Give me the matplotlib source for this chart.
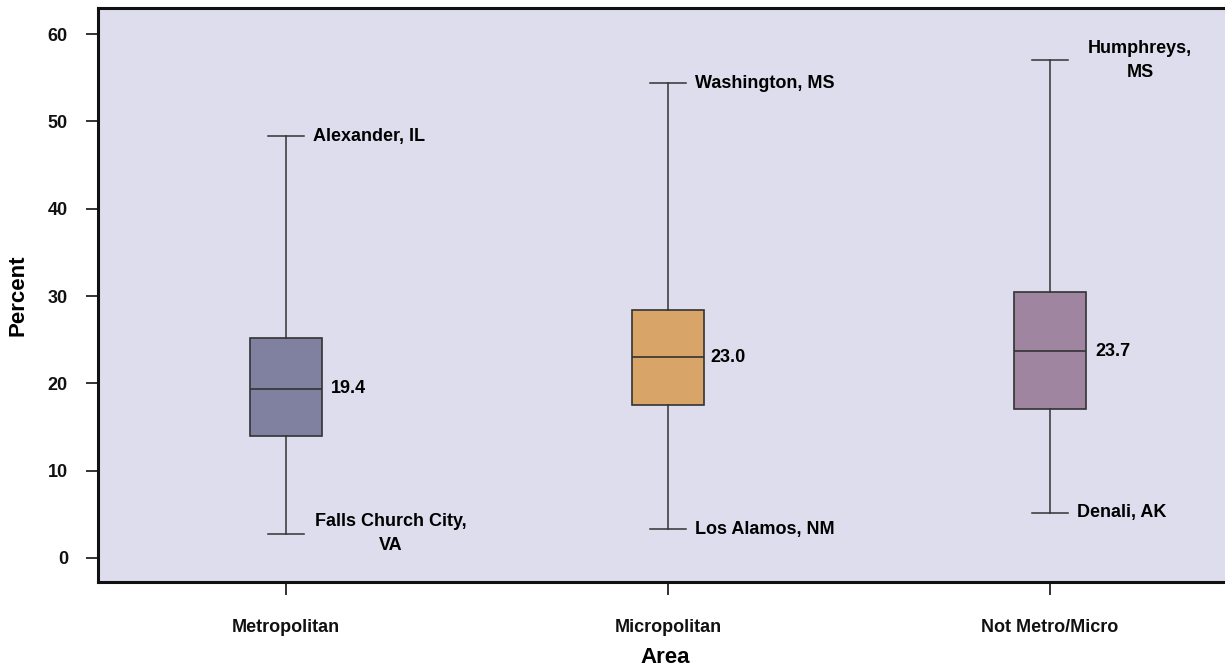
import matplotlib
matplotlib.use("Agg")
import matplotlib.pyplot as plt

# data
areas = ["Metropolitan", "Micropolitan", "Not Metro/Micro"]
whisker_low = [2.8, 3.3, 5.2]
q1 = [14.0, 17.5, 17.1]
median = [19.4, 23.0, 23.7]
q3 = [25.2, 28.4, 30.5]
whisker_high = [48.3, 54.4, 57.0]
high_labels = ["Alexander, IL", "Washington, MS", "Humphreys,\nMS"]
low_labels = ["Falls Church City,\nVA", "Los Alamos, NM", "Denali, AK"]
yticks = [0, 10, 20, 30, 40, 50, 60]

box_colors = ["#8081A0", "#D9A467", "#A085A1"]
bg_color = "#DEDDEE"
line_color = "#333333"

plt.rcParams["font.family"] = ["Liberation Sans", "DejaVu Sans"]
plt.rcParams["font.weight"] = "bold"

fig = plt.figure(figsize=(12.25, 6.7), dpi=100)
ax = fig.add_axes([98 / 1225, 1 - 582 / 670, 1146 / 1225, 574 / 670])
ax.set_facecolor(bg_color)

stats = []
for i, name in enumerate(areas):
    stats.append({
        "label": name,
        "whislo": whisker_low[i],
        "q1": q1[i],
        "med": median[i],
        "q3": q3[i],
        "whishi": whisker_high[i],
        "fliers": [],
    })

positions = [1, 2, 3]
box_w = 0.19
bp = ax.bxp(stats, positions=positions, widths=box_w, capwidths=box_w / 2,
            patch_artist=True, showfliers=False,
            boxprops=dict(edgecolor=line_color, linewidth=1.2),
            medianprops=dict(color=line_color, linewidth=1.2),
            whiskerprops=dict(color=line_color, linewidth=1.1),
            capprops=dict(color=line_color, linewidth=1.1))
for patch, c in zip(bp["boxes"], box_colors):
    patch.set_facecolor(c)

# annotations
fs = 13
med_off = [9, 6, 9]
high_off = [9, 9, 20]
low_off = [11, 9, 9]
for i, p in enumerate(positions):
    ax.annotate(f"{median[i]:.1f}", xy=(p + box_w / 2, median[i]),
                xytext=(med_off[i] * 0.72, 0), textcoords="offset points",
                ha="left", va="center", fontsize=fs, fontweight="bold")
    ax.annotate(high_labels[i], xy=(p + box_w / 4, whisker_high[i]),
                xytext=(high_off[i] * 0.72, 0), textcoords="offset points",
                ha="left", va="center", multialignment="center",
                fontsize=fs, fontweight="bold", linespacing=1.55)
    ax.annotate(low_labels[i], xy=(p + box_w / 4, whisker_low[i]),
                xytext=(low_off[i] * 0.72, 0), textcoords="offset points",
                ha="left", va="center", multialignment="center",
                fontsize=fs, fontweight="bold", linespacing=1.55)

ax.set_xlim(0.508, 3.508)
ax.set_ylim(-2.75, 63)
ax.set_yticks(yticks)
ax.set_xticks(positions)
ax.set_xticklabels(areas)

for s in ["left", "bottom", "top"]:
    ax.spines[s].set_linewidth(2.2)
    ax.spines[s].set_color("#111111")
ax.spines["right"].set_visible(False)

ax.tick_params(axis="y", length=8.6, width=1.2, pad=13, labelsize=fs, colors="#111111")
ax.tick_params(axis="x", length=9.4, width=1.2, pad=17, labelsize=fs, colors="#111111")

ax.set_ylabel("Percent", fontsize=16, fontweight="bold", labelpad=14)
ax.set_xlabel("Area", fontsize=16, fontweight="bold", labelpad=8)
ax.xaxis.label.set_x((665 - 98) / 1146)

fig.savefig("out.png", dpi=100)
